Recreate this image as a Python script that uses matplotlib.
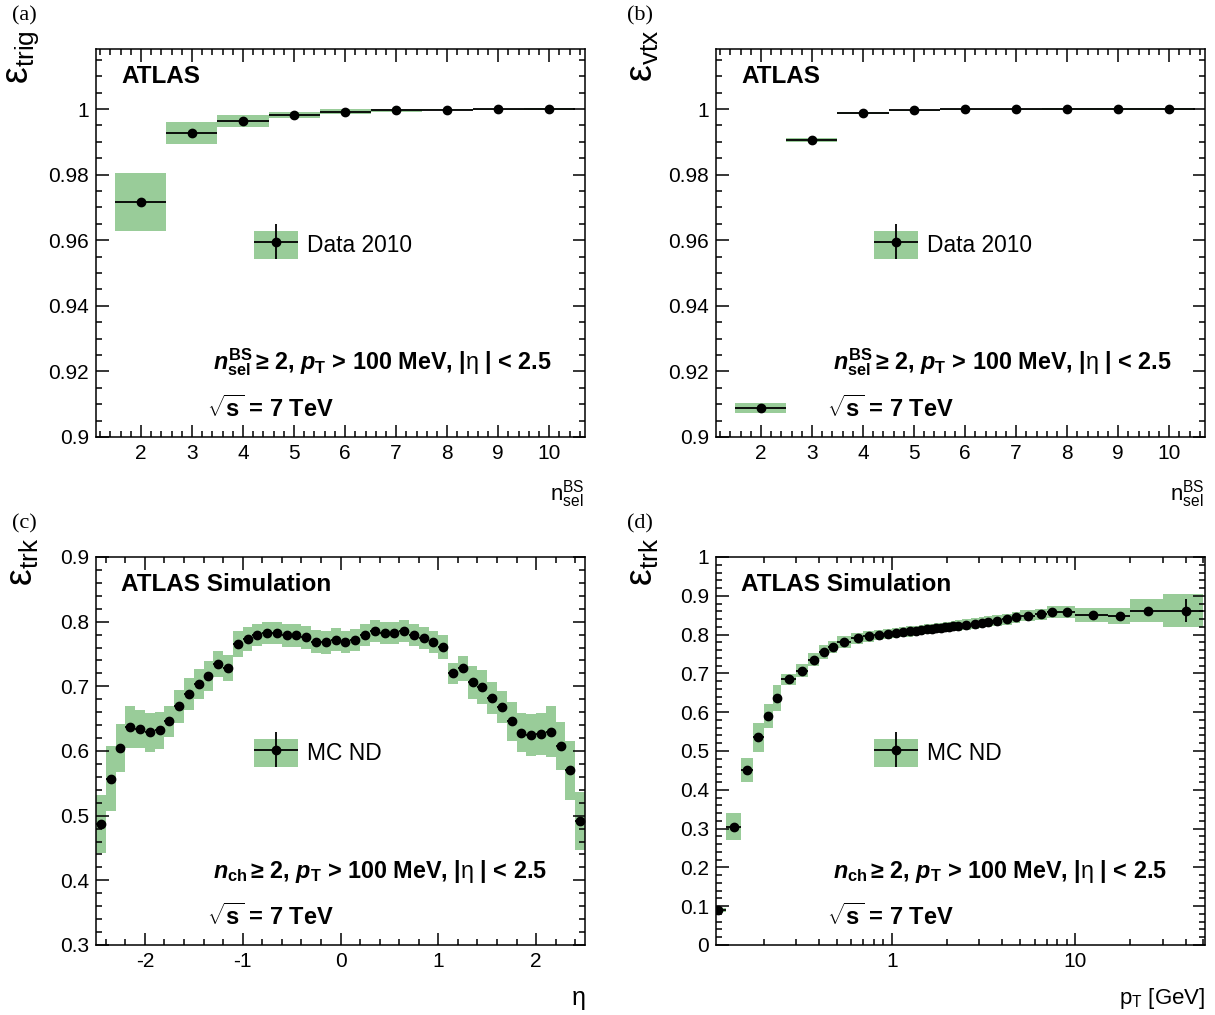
import numpy as np
import matplotlib
matplotlib.use("Agg")
import matplotlib.pyplot as plt
from matplotlib.patches import Patch
from matplotlib.container import ErrorbarContainer
from matplotlib.legend_handler import HandlerTuple, HandlerErrorbar
from matplotlib.ticker import MultipleLocator, FuncFormatter, LogLocator, NullFormatter

plt.rcParams['font.family'] = ['Liberation Sans', 'DejaVu Sans']
plt.rcParams['mathtext.fontset'] = 'custom'
plt.rcParams['mathtext.rm'] = 'Liberation Sans'
plt.rcParams['mathtext.sf'] = 'Liberation Sans'
plt.rcParams['mathtext.it'] = 'Liberation Sans:italic:bold'
plt.rcParams['mathtext.bf'] = 'Liberation Sans:bold'

GREEN = '#99cc99'

# (a) trigger efficiency vs n_sel^BS
nsel = [2, 3, 4, 5, 6, 7, 8, 9, 10]
eff_trig = [0.9717, 0.9926, 0.9963, 0.9982, 0.9992, 0.9996, 0.9998, 0.9999, 1.0]
sys_trig = [0.0089, 0.0034, 0.0018, 0.0009, 0.0008, 0.0005, 0.0002, 0.0002, 0.0002]

# (b) vertex efficiency vs n_sel^BS
eff_vtx = [0.9088, 0.99055, 0.9988, 0.9996, 0.9999, 0.9999, 1.0, 1.0, 1.0]
sys_vtx = [0.0015, 0.0006, 0.0003, 0.0002, 0.0002, 0.0002, 0.0002, 0.0002, 0.0002]

# (c) tracking efficiency vs eta
eta_lo = np.round(np.arange(-2.5, 2.5, 0.1), 2)
eff_eta = [0.487, 0.557, 0.604, 0.637, 0.634, 0.629, 0.632, 0.646, 0.669, 0.688,
           0.704, 0.716, 0.735, 0.729, 0.765, 0.773, 0.780, 0.782, 0.782, 0.779,
           0.779, 0.776, 0.769, 0.768, 0.772,
           0.769, 0.771, 0.780, 0.786, 0.782, 0.782, 0.785, 0.779, 0.774, 0.769,
           0.761, 0.720, 0.728, 0.706, 0.699, 0.682, 0.668, 0.646, 0.628, 0.625,
           0.626, 0.630, 0.608, 0.570, 0.492]
sys_eta = [0.045, 0.050, 0.037, 0.032, 0.030, 0.030, 0.029, 0.024, 0.025, 0.025,
           0.023, 0.023, 0.020, 0.020, 0.020, 0.018, 0.017, 0.017, 0.017, 0.018,
           0.018, 0.018, 0.018, 0.018, 0.018,
           0.017, 0.017, 0.017, 0.017, 0.017, 0.017, 0.017, 0.017, 0.017, 0.017,
           0.018, 0.016, 0.019, 0.026, 0.026, 0.025, 0.025, 0.030, 0.030, 0.032,
           0.032, 0.039, 0.037, 0.046, 0.045]

# (d) tracking efficiency vs pT
pt_edges = [0.1, 0.125, 0.15, 0.175, 0.2, 0.225, 0.25, 0.3, 0.35, 0.4, 0.45, 0.5,
            0.6, 0.7, 0.8, 0.9, 1.0, 1.1, 1.2, 1.3, 1.4, 1.5, 1.6, 1.7, 1.8, 1.9,
            2.0, 2.1, 2.2, 2.4, 2.7, 3.0, 3.2, 3.5, 4.0, 4.5, 5.0, 6.0, 7.0, 8.0,
            10, 15, 20, 30, 50]
eff_pt = [0.090, 0.305, 0.451, 0.535, 0.590, 0.636,
          0.685, 0.707, 0.735, 0.754, 0.768,
          0.781, 0.790, 0.796, 0.800, 0.802, 0.805, 0.807, 0.808, 0.810, 0.812,
          0.814, 0.814, 0.816, 0.818, 0.819, 0.820, 0.821,
          0.823, 0.826, 0.828, 0.831, 0.833, 0.836, 0.840, 0.845, 0.849, 0.852,
          0.858, 0.858,
          0.851, 0.848, 0.862, 0.862]
sys_pt = [0.006, 0.034, 0.032, 0.037, 0.030, 0.033,
          0.014, 0.017, 0.017, 0.018, 0.016,
          0.016, 0.014, 0.014, 0.013, 0.013, 0.013, 0.013, 0.013, 0.013, 0.013,
          0.013, 0.013, 0.013, 0.013, 0.013, 0.013, 0.013,
          0.014, 0.014, 0.014, 0.014, 0.014, 0.014, 0.014, 0.014, 0.015, 0.015,
          0.015, 0.015,
          0.018, 0.020, 0.029, 0.042]
stat_pt = [0.001] * 42 + [0.006, 0.029]


def style_axes(ax):
    ax.tick_params(which='both', direction='in', top=True, right=True,
                   labelsize=15, width=1.1)
    ax.tick_params(which='major', length=9, pad=5)
    ax.tick_params(which='minor', length=4.5)
    for s in ax.spines.values():
        s.set_linewidth(1.1)
    ax.yaxis.set_major_formatter(FuncFormatter(lambda v, p: f'{v:g}'))


def add_legend(ax, eb, label):
    h = (Patch(facecolor=GREEN, edgecolor='none'), eb)
    ax.legend([h], [label], loc='center left', bbox_to_anchor=(0.323, 0.495),
              frameon=False, fontsize=16.4, handlelength=1.93, handleheight=1.55,
              handletextpad=0.4, borderpad=0, borderaxespad=0,
              handler_map={tuple: HandlerTuple(ndivide=1),
                           ErrorbarContainer: HandlerErrorbar(xerr_size=0.96, yerr_size=0.75)})


def add_text(ax, cut, title):
    ax.text(0.051, 0.958, title, transform=ax.transAxes, fontsize=17.5,
            fontweight='bold', va='top', ha='left')
    ax.text(0.239, 0.173, cut, transform=ax.transAxes, fontsize=16.8,
            fontweight='bold', va='baseline', ha='left')
    ax.text(0.227, 0.052, r'$\sqrt{\mathbf{s}}$ = 7 TeV', transform=ax.transAxes,
            fontsize=17, fontweight='bold', va='baseline', ha='left')


fig = plt.figure(figsize=(12.15, 10.15), dpi=100)
axw, axh = 489 / 1215, 388 / 1015
ax_a = fig.add_axes([96 / 1215, 1 - 437 / 1015, axw, axh])
ax_b = fig.add_axes([716 / 1215, 1 - 437 / 1015, axw, axh])
ax_c = fig.add_axes([96 / 1215, 1 - 945 / 1015, axw, axh])
ax_d = fig.add_axes([716 / 1215, 1 - 945 / 1015, axw, axh])

cut_sel = (r'$\mathit{n}_{\mathbf{sel}}^{\mathbf{BS}}\,$≥ 2, '
           r'$\mathit{p}_{\mathbf{T}}$ > 100 MeV, |$\mathrm{\eta}$ | < 2.5')
cut_ch = (r'$\mathit{n}_{\mathbf{ch}}\,$≥ 2, '
          r'$\mathit{p}_{\mathbf{T}}$ > 100 MeV, |$\mathrm{\eta}$ | < 2.5')

# (a) and (b)
for ax, eff, sys, ylab in [(ax_a, eff_trig, sys_trig, r'$\mathrm{\varepsilon_{trig}}$'),
                           (ax_b, eff_vtx, sys_vtx, r'$\mathrm{\varepsilon_{vtx}}$')]:
    style_axes(ax)
    e = np.array(eff)
    s = np.array(sys)
    ax.bar(nsel, 2 * s, bottom=e - s, width=1.0, color=GREEN, linewidth=0, zorder=1)
    eb = ax.errorbar(nsel, eff, xerr=0.5, yerr=0.0002, fmt='o', color='k', ms=6,
                     elinewidth=1.3, capsize=0, zorder=3)
    ax.set_xlim(1.12, 10.7)
    ax.set_ylim(0.9, 1.0183)
    ax.xaxis.set_major_locator(MultipleLocator(1))
    ax.xaxis.set_minor_locator(MultipleLocator(0.2))
    ax.yaxis.set_major_locator(MultipleLocator(0.02))
    ax.yaxis.set_minor_locator(MultipleLocator(0.005))
    ax.xaxis.set_major_formatter(FuncFormatter(lambda v, p: f'{v:g}'))
    ax.set_xlabel(r'$\mathrm{n_{sel}^{BS}}$', fontsize=16, loc='right')
    ax.xaxis.set_label_coords(1.0, -0.105)
    ax.set_ylabel(ylab, fontsize=27, loc='top')
    ax.yaxis.set_label_coords(-0.112, 1.05)
    add_legend(ax, eb, 'Data 2010')
    add_text(ax, cut_sel, 'ATLAS')

# (c)
style_axes(ax_c)
eta_c = eta_lo + 0.05
e = np.array(eff_eta)
s = np.array(sys_eta)
ax_c.bar(eta_c, 2 * s, bottom=e - s, width=0.1, color=GREEN, linewidth=0, zorder=1)
eb = ax_c.errorbar(eta_c, eff_eta, xerr=0.05, yerr=0.001, fmt='o', color='k', ms=6,
                   elinewidth=1.3, capsize=0, zorder=3)
ax_c.set_xlim(-2.5, 2.5)
ax_c.set_ylim(0.3, 0.9)
ax_c.xaxis.set_major_locator(MultipleLocator(1))
ax_c.xaxis.set_minor_locator(MultipleLocator(0.2))
ax_c.yaxis.set_major_locator(MultipleLocator(0.1))
ax_c.yaxis.set_minor_locator(MultipleLocator(0.02))
ax_c.xaxis.set_major_formatter(FuncFormatter(lambda v, p: f'{v:g}'))
ax_c.set_xlabel(r'$\mathrm{\eta}$', fontsize=18, loc='right')
ax_c.xaxis.set_label_coords(1.0, -0.11)
ax_c.set_ylabel(r'$\mathrm{\varepsilon_{trk}}$', fontsize=27, loc='top')
ax_c.yaxis.set_label_coords(-0.112, 1.05)
add_legend(ax_c, eb, 'MC ND')
add_text(ax_c, cut_ch, 'ATLAS Simulation')

# (d)
style_axes(ax_d)
ax_d.set_xscale('log')
edges = np.array(pt_edges)
lo, hi = edges[:-1], edges[1:]
pt_c = 0.5 * (lo + hi)
e = np.array(eff_pt)
s = np.array(sys_pt)
ax_d.bar(lo, 2 * s, bottom=e - s, width=hi - lo, align='edge', color=GREEN,
         linewidth=0, zorder=1)
eb = ax_d.errorbar(pt_c, eff_pt, xerr=[pt_c - lo, hi - pt_c], yerr=stat_pt, fmt='o',
                   color='k', ms=6, elinewidth=1.3, capsize=0, zorder=3)
ax_d.set_xlim(0.11, 51)
ax_d.set_ylim(0, 1)
ax_d.xaxis.set_major_locator(LogLocator(base=10, numticks=10))
ax_d.xaxis.set_minor_locator(LogLocator(base=10, subs=np.arange(2, 10), numticks=20))
ax_d.xaxis.set_minor_formatter(NullFormatter())
ax_d.xaxis.set_major_formatter(FuncFormatter(lambda v, p: f'{v:g}'))
ax_d.yaxis.set_major_locator(MultipleLocator(0.1))
ax_d.yaxis.set_minor_locator(MultipleLocator(0.02))
ax_d.set_xlabel(r'$\mathrm{p_{T}}$ [GeV]', fontsize=16, loc='right')
ax_d.xaxis.set_label_coords(1.0, -0.105)
ax_d.set_ylabel(r'$\mathrm{\varepsilon_{trk}}$', fontsize=27, loc='top')
ax_d.yaxis.set_label_coords(-0.112, 1.05)
add_legend(ax_d, eb, 'MC ND')
add_text(ax_d, cut_ch, 'ATLAS Simulation')

for lab, x, y in [('(a)', 12, 16), ('(b)', 627, 16), ('(c)', 12, 524), ('(d)', 627, 524)]:
    fig.text(x / 1215, 1 - y / 1015, lab, fontsize=16, family='Liberation Serif',
             ha='left', va='center')

fig.savefig('out.png', dpi=100)
